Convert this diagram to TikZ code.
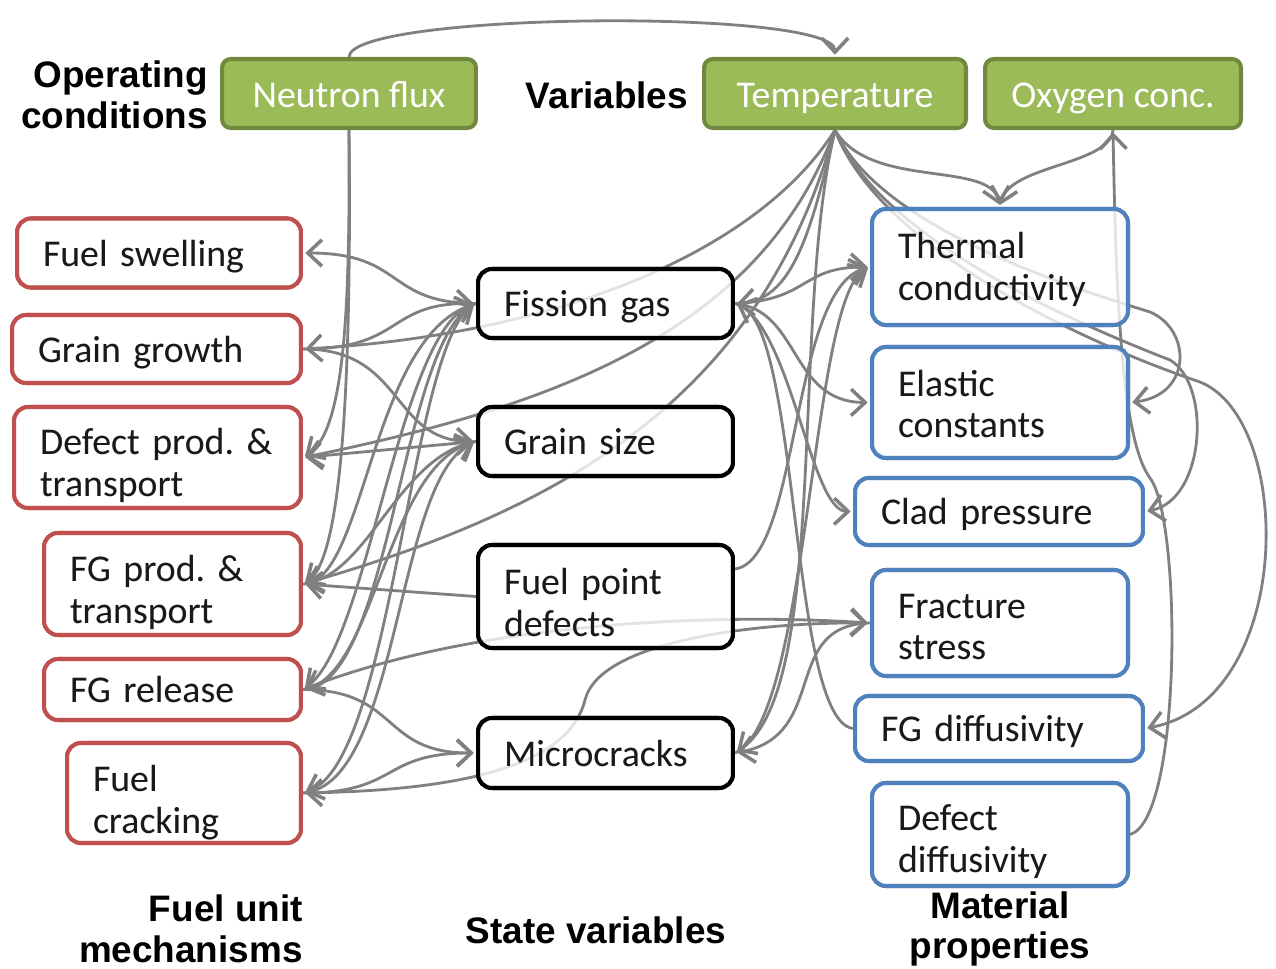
\documentclass[tikz,border=0pt]{standalone}
\usepackage{fontspec}
\usetikzlibrary{arrows.meta}
\newfontfamily\boxfont{Carlito}
\newfontfamily\labfont{Liberation Sans}
\definecolor{lgray}{HTML}{808080}
\definecolor{gfill}{HTML}{9BBB59}
\definecolor{gdraw}{HTML}{71893F}
\definecolor{rdraw}{HTML}{C0504D}
\definecolor{bdraw}{HTML}{4F81BD}
\tikzset{
  conn/.style={draw=lgray, line width=1.6pt},
  arr/.style={conn, shorten >=1.3pt, -{Straight Barb[length=8pt,width=15pt,line width=2pt]}},
  darr/.style={conn, shorten >=1.3pt, shorten <=1.3pt, {Straight Barb[length=8pt,width=15pt,line width=2pt]}-{Straight Barb[length=8pt,width=15pt,line width=2pt]}},
  bx/.style={rounded corners=8pt, line width=2.3pt, fill=white, fill opacity=0.78, text opacity=1, draw opacity=1,
    inner xsep=0.52cm, inner ysep=0pt, align=left, text=black!90, text depth=-1pt,
    font=\boxfont\fontsize{21.5}{23.5}\selectfont\frenchspacing},
  rbox/.style={bx, draw=rdraw},
  kbox/.style={bx, draw=black},
  bbox/.style={bx, draw=bdraw},
  gbox/.style={rounded corners=5pt, line width=2.3pt, fill=gfill, draw=gdraw, text=white, align=center,
    minimum height=1.38cm, inner sep=0pt, text height=15.5pt, text depth=0pt,
    font=\boxfont\fontsize{21.5}{23.5}\selectfont},
  lab/.style={font=\labfont\bfseries\fontsize{21}{23}\selectfont, inner sep=0pt}
}
\begin{document}
\begin{tikzpicture}[x=0.02cm, y=-0.02cm]
\useasboundingbox (0,0) rectangle (1276,969);

% nodes placed first (invisible) to get anchors; redrawn on top of the connectors
\begin{scope}[every node/.append style={opacity=0, text opacity=0, fill opacity=0, draw opacity=0}]
\node[gbox, minimum width=5.08cm] (nf) at (349,93.5) {Neutron flux};
\node[gbox, minimum width=5.24cm] (temp) at (835,93.5) {Temperature};
\node[gbox, minimum width=5.12cm] (ox) at (1113,93.5) {Oxygen conc.};
\node[rbox, text width=4.64cm, minimum height=1.38cm] (fs) at (159,253) {Fuel swelling};
\node[rbox, text width=4.74cm, minimum height=1.36cm] (gg) at (156.5,349) {Grain growth};
\node[rbox, text width=4.70cm, minimum height=2.02cm, text depth=17.8pt] (dp) at (157.5,457.5) {\mbox{Defect prod. \&}\\transport};
\node[rbox, text width=4.10cm, minimum height=2.04cm, text depth=17.3pt] (fgp) at (172.5,584) {\mbox{FG prod. \&}\\transport};
\node[rbox, text width=4.10cm, minimum height=1.22cm] (fgr) at (172.5,689.5) {FG release};
\node[rbox, text width=3.64cm, minimum height=2.00cm, text depth=16.1pt] (fc) at (184,793) {Fuel\\cracking};
\node[kbox, text width=4.06cm, minimum height=1.38cm] (fgas) at (605.5,303.5) {Fission gas};
\node[kbox, text width=4.06cm, minimum height=1.38cm] (gsz) at (605.5,441.5) {Grain size};
\node[kbox, text width=4.06cm, minimum height=2.06cm, text depth=16.7pt] (fpd) at (605.5,596.5) {Fuel point\\defects};
\node[kbox, text width=4.06cm, minimum height=1.40cm] (mc) at (605.5,753) {Microcracks};
\node[bbox, text width=4.08cm, minimum height=2.32cm, text depth=24.1pt] (tc) at (1000,267) {Thermal\\conductivity};
\node[bbox, text width=4.08cm, minimum height=2.22cm, text depth=21.8pt] (ec) at (1000,402.5) {Elastic\\constants};
\node[bbox, text width=4.72cm, minimum height=1.34cm] (cp) at (999,511.5) {Clad pressure};
\node[bbox, text width=4.08cm, minimum height=2.12cm, text depth=19pt] (fst) at (1000,623) {Fracture\\stress};
\node[bbox, text width=4.72cm, minimum height=1.30cm] (fgd) at (999,728.5) {FG diffusivity};
\node[bbox, text width=4.08cm, minimum height=2.06cm, text depth=19pt] (dd) at (1000,834.5) {Defect\\diffusivity};
\end{scope}

% ---------- connectors ----------
% top arc
\draw[arr] (nf.north) .. controls (350,12) and (835,8) .. (temp.north);
% neutron flux down
\draw[arr] (nf.south) .. controls (350,300) and (346,430) .. (dp.east);
\draw[arr] (nf.south) .. controls (352,400) and (340,560) .. (fgp.east);

% left side
\draw[arr] (fgas.west) .. controls (385,303) and (405,253) .. (fs.east);
\draw[arr] (gg.east) .. controls (405,349) and (385,303) .. (fgas.west);
\draw[arr] (gg.east) .. controls (405,349) and (390,441) .. (gsz.west);
\draw[arr] (gsz.west) -- (dp.east);
\draw[arr] (fgas.west) .. controls (400,318) and (370,640) .. (fgr.east);
\draw[arr] (fgas.west) .. controls (410,330) and (395,760) .. (fc.east);
\draw[arr] (gsz.west) .. controls (400,455) and (370,570) .. (fgp.east);
\draw[arr] (fgp.east) .. controls (365,584) and (370,340) .. (fgas.west);
\draw[arr] (fgr.east) .. controls (375,680) and (385,470) .. (gsz.west);
\draw[arr] (fc.east) .. controls (400,785) and (395,480) .. (gsz.west);
\draw[arr] (fgr.east) .. controls (390,688) and (400,350) .. (fgas.west);
\draw[arr] (fpd.west) -- (fgp.east);
\draw[arr] (fgr.east) .. controls (400,690) and (380,753) .. (mc.west);
\draw[arr] (fc.east) .. controls (400,793) and (380,753) .. (mc.west);

% temperature to mechanisms (passing behind state boxes)
\draw[arr] (temp.south) .. controls (760,250) and (560,335) .. (gg.east);
\draw[arr] (temp.south) .. controls (760,330) and (560,405) .. (dp.east);
\draw[arr] (temp.south) .. controls (760,400) and (560,510) .. (fgp.east);
\draw[darr] (fst.west) .. controls (700,612) and (470,625) .. (fgr.east);
\draw[darr] (fc.east) .. controls (480,790) and (570,760) .. (585,700) .. controls (600,640) and (760,622) .. (fst.west);

% right of state variables
\draw[arr] (temp.south) .. controls (810,240) and (790,300) .. (fgas.east);
\draw[arr] (fgas.east) .. controls (810,300) and (800,267) .. (tc.west);
\draw[arr] (fgas.east) .. controls (800,310) and (790,402) .. (ec.west);
\draw[arr] (fgas.east) .. controls (790,320) and (810,511) .. (cp.west);
\draw[arr] (fgd.west) .. controls (790,720) and (800,330) .. (fgas.east);
\draw[arr] (temp.south) .. controls (790,320) and (830,690) .. (mc.east);
\draw[arr] (fst.west) .. controls (780,625) and (830,735) .. (mc.east);
\draw[arr] (fpd.12) .. controls (800,560) and (790,290) .. (tc.west);
\draw[arr] (mc.east) .. controls (810,720) and (810,300) .. (tc.west);

% temperature / oxygen to material properties
\draw[arr] (temp.south) .. controls (870,190) and (990,160) .. (tc.north);
\draw[arr] (ox.south) .. controls (1110,165) and (1010,165) .. (tc.north);
\draw[arr] (temp.south) .. controls (880,230) and (1080,290) .. (1150,312) .. controls (1192,330) and (1192,395) .. (ec.east);
\draw[arr] (temp.south) .. controls (880,240) and (1080,325) .. (1170,360) .. controls (1212,385) and (1205,500) .. (cp.east);
\draw[arr] (temp.south) .. controls (880,250) and (1090,345) .. (1200,382) .. controls (1295,420) and (1295,700) .. (fgd.east);
\draw[arr] (dd.east) .. controls (1182,820) and (1182,520) .. (1150,478) .. controls (1122,440) and (1116,300) .. (ox.south);

% ---------- boxes on top ----------
\node[gbox, minimum width=5.08cm] at (nf) {Neutron flux};
\node[gbox, minimum width=5.24cm] at (temp) {Temperature};
\node[gbox, minimum width=5.12cm] at (ox) {Oxygen conc.};
\node[rbox, text width=4.64cm, minimum height=1.38cm] at (fs) {Fuel swelling};
\node[rbox, text width=4.74cm, minimum height=1.36cm] at (gg) {Grain growth};
\node[rbox, text width=4.70cm, minimum height=2.02cm, text depth=17.8pt] at (dp) {\mbox{Defect prod. \&}\\transport};
\node[rbox, text width=4.10cm, minimum height=2.04cm, text depth=17.3pt] at (fgp) {\mbox{FG prod. \&}\\transport};
\node[rbox, text width=4.10cm, minimum height=1.22cm] at (fgr) {FG release};
\node[rbox, text width=3.64cm, minimum height=2.00cm, text depth=16.1pt] at (fc) {Fuel\\cracking};
\node[kbox, text width=4.06cm, minimum height=1.38cm] at (fgas) {Fission gas};
\node[kbox, text width=4.06cm, minimum height=1.38cm] at (gsz) {Grain size};
\node[kbox, text width=4.06cm, minimum height=2.06cm, text depth=16.7pt] at (fpd) {Fuel point\\defects};
\node[kbox, text width=4.06cm, minimum height=1.40cm] at (mc) {Microcracks};
\node[bbox, text width=4.08cm, minimum height=2.32cm, text depth=24.1pt] at (tc) {Thermal\\conductivity};
\node[bbox, text width=4.08cm, minimum height=2.22cm, text depth=21.8pt] at (ec) {Elastic\\constants};
\node[bbox, text width=4.72cm, minimum height=1.34cm] at (cp) {Clad pressure};
\node[bbox, text width=4.08cm, minimum height=2.12cm, text depth=19pt] at (fst) {Fracture\\stress};
\node[bbox, text width=4.72cm, minimum height=1.30cm] at (fgd) {FG diffusivity};
\node[bbox, text width=4.08cm, minimum height=2.06cm, text depth=19pt] at (dd) {Defect\\diffusivity};

% ---------- labels ----------
\node[lab, anchor=east, align=right] (lop) at (208,95) {Operating\\conditions};
\node[lab] (lvar) at (607,95) {Variables};
\node[lab, anchor=east, align=right] (lfu) at (303,929) {Fuel unit\\mechanisms};
\node[lab] (lsv) at (596,930) {State variables};
\node[lab, align=center] (lmp) at (1000,929) {Material\\properties};
\end{tikzpicture}
\end{document}
